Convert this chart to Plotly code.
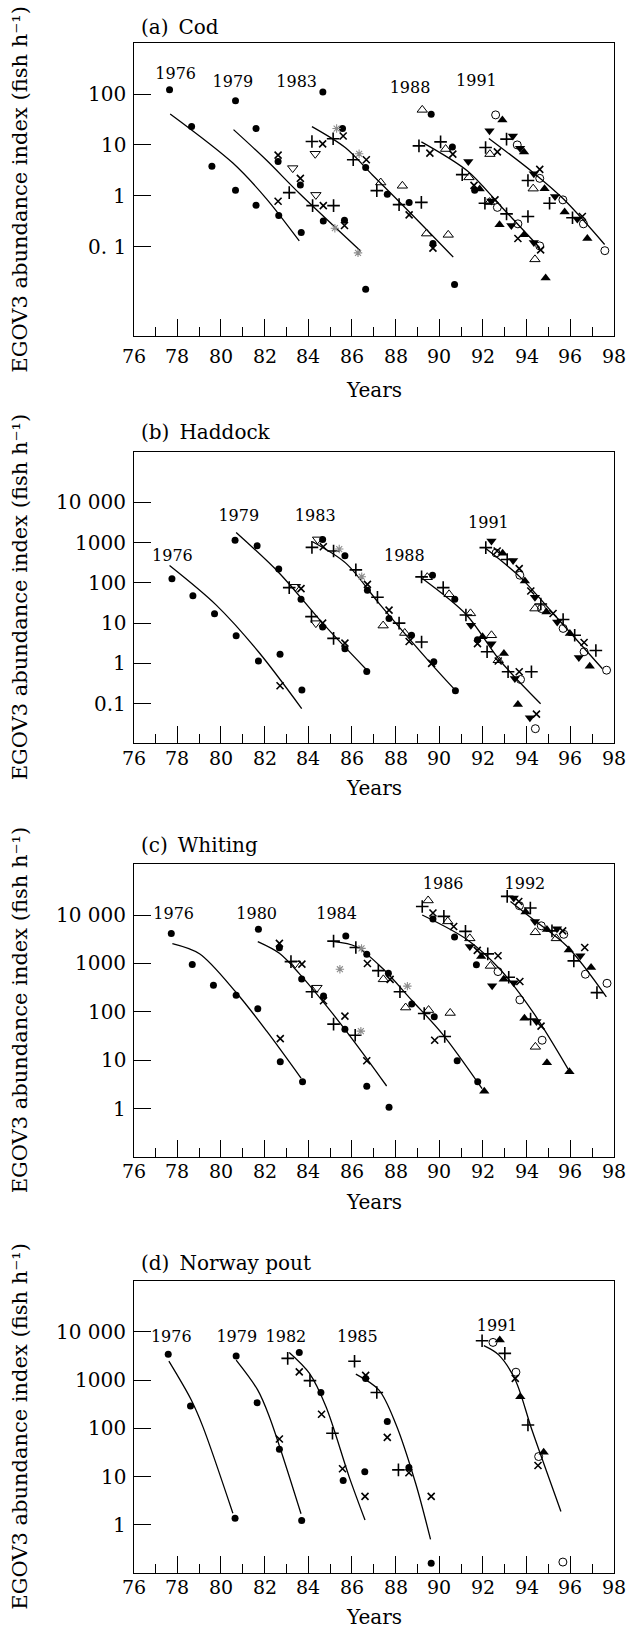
import math
import plotly.graph_objects as go

W, H = 630, 1641
FONT = "DejaVu Serif"

# ---------------- (a) Cod ----------------
COD_DOT = [(77.65, 122), (78.66, 23), (79.59, 3.8), (80.67, 1.29), (81.61, 0.65), (82.65, 0.41), (83.68, 0.19),
           (80.67, 74), (81.61, 21), (82.62, 4.7), (83.64, 1.63), (84.69, 0.32), (85.66, 0.33),
           (84.67, 110), (85.57, 21), (86.63, 3.6), (87.62, 1.07), (88.62, 0.74), (89.71, 0.115), (86.63, 0.0145), (90.7, 0.018),
           (89.63, 40), (90.6, 9.1), (91.62, 1.29)]
COD_X = [(82.62, 0.78), (82.62, 6.3), (83.64, 2.2), (84.69, 0.64), (85.66, 0.26), (85.6, 15), (84.66, 10.5), (86.66, 5.1),
         (88.62, 0.42), (89.71, 0.093), (89.57, 6.9), (90.62, 6.6), (91.59, 1.6), (92.55, 0.83), (93.6, 0.144),
         (94.64, 0.086), (92.66, 7.3), (94.6, 3.3), (96.55, 0.39)]
COD_PLUS = [(83.13, 1.15), (84.2, 0.64), (85.16, 0.64), (84.17, 11.7), (85.14, 13.2), (86.06, 5.1), (87.14, 1.26),
            (88.16, 0.67), (89.18, 0.74), (89.07, 9.6), (90.06, 11.5), (91.05, 2.6), (92.09, 0.71), (93.08, 0.44),
            (94.06, 0.39), (92.12, 8.9), (93.08, 13), (94.06, 2.0), (95.05, 0.71), (96.1, 0.37)]
COD_TRI_DOWN_OPEN = [(83.29, 3.5), (84.35, 1.04), (84.32, 6.7)]
COD_TRI_UP_OPEN = [(87.32, 1.82), (88.31, 1.57), (89.42, 0.18), (90.41, 0.17), (89.22, 49), (90.29, 8.3), (91.36, 2.3),
                   (92.3, 0.75), (94.38, 0.056), (92.32, 6.6), (94.3, 1.38)]
COD_STAR = [(85.22, 0.23), (86.28, 0.075), (85.3, 21), (86.33, 6.7)]
COD_TRI_DOWN = [(91.33, 4.7), (92.38, 0.79), (93.3, 0.26), (94.33, 0.12), (92.3, 19), (93.37, 15), (93.7, 8.6),
                (94.33, 2.7), (95.3, 0.97), (96.32, 0.35)]
COD_TRI_UP = [(91.85, 1.35), (92.76, 0.27), (93.88, 0.17), (94.87, 0.024), (92.89, 31), (93.88, 7.3), (94.82, 1.38),
              (95.74, 0.48), (96.78, 0.144)]
COD_OPEN_CIRCLE = [(92.66, 0.59), (93.6, 0.28), (94.6, 0.103), (92.58, 39), (93.57, 10), (94.6, 2.2), (95.66, 0.83),
                   (96.6, 0.28), (97.58, 0.083)]
COD_FITS = {
    "1976": [(77.68, 40.7), (80.55, 4.4), (82.07, 0.89), (83.59, 0.129)],
    "1979": [(80.58, 20), (82.07, 5.1), (83.59, 1.12), (86.41, 0.081)],
    "1983": [(84.17, 22.9), (85.72, 8.7), (86.94, 2.57), (88.61, 0.49), (90.64, 0.062)],
    "1988": [(89.18, 11.5), (91.28, 3.1), (92.81, 0.63), (94.6, 0.095)],
    "1991": [(92.27, 13.4), (94.28, 2.9), (95.7, 0.85), (97.57, 0.11)],
}
COD_LABELS = [("1976", 77.93, 240), ("1979", 80.55, 166), ("1983", 83.47, 166), ("1988", 88.66, 128), ("1991", 91.7, 170)]

# ---------------- (b) Haddock ----------------
HAD_DOT = [(77.76, 126), (78.72, 48), (79.71, 17), (80.7, 4.9), (81.72, 1.15), (82.71, 1.7), (83.71, 0.22),
           (80.65, 1150), (81.66, 830), (82.65, 220), (83.67, 39), (84.66, 8), (85.68, 2.3), (86.68, 0.63),
           (84.66, 1200), (85.68, 470), (86.71, 66), (87.7, 13), (88.73, 5.0), (89.75, 1.1), (90.74, 0.21),
           (89.69, 155), (90.71, 39), (91.75, 3.9)]
HAD_X = [(82.71, 0.28), (83.67, 72), (84.66, 10), (85.68, 3.2), (84.69, 790), (86.71, 92), (87.7, 21), (88.62, 3.5),
         (89.65, 1.0), (91.75, 3.1), (92.7, 1.15), (93.66, 0.62), (94.45, 0.055), (92.65, 620), (93.66, 225),
         (94.19, 63), (95.21, 17.4), (96.63, 3.3)]
HAD_PLUS = [(83.13, 76), (84.15, 14.5), (85.16, 4.2), (84.17, 760), (85.16, 620), (86.18, 210), (87.17, 44), (88.16, 10),
            (89.19, 3.4), (89.19, 141), (90.18, 76), (91.22, 16), (92.19, 1.95), (93.15, 0.62), (94.22, 0.62),
            (92.13, 750), (93.11, 380), (94.65, 30), (95.67, 12.3), (96.2, 5.0), (97.17, 2.1)]
HAD_TRI_DOWN_OPEN = [(83.41, 80), (84.35, 10), (84.43, 1200)]
HAD_TRI_UP_OPEN = [(87.43, 8.7), (88.42, 5.7), (89.45, 138), (90.45, 52), (91.43, 17.5), (92.39, 5.0), (92.7, 1.2),
                   (94.38, 23)]
HAD_STAR = [(85.42, 690), (86.45, 142)]
HAD_TRI_DOWN = [(91.45, 8.9), (92.39, 3.1), (93.46, 0.42), (94.15, 0.045), (92.39, 1100), (93.38, 360), (94.38, 44),
                (95.4, 10.7), (96.39, 1.4)]
HAD_TRI_UP = [(91.98, 4.6), (92.96, 1.76), (93.6, 0.095), (92.9, 540), (93.92, 112), (94.91, 19), (95.98, 5.5),
              (96.89, 0.85)]
HAD_OPEN_CIRCLE = [(93.72, 0.4), (94.4, 0.024), (92.6, 550), (93.69, 155), (94.68, 23), (95.67, 7.4), (96.63, 1.95),
                   (97.66, 0.68)]
HAD_FITS = {
    "1976": [(77.65, 269), (79.79, 28), (81.72, 1.95), (83.7, 0.076)],
    "1979": [(80.7, 1780), (82.68, 174), (84.66, 10), (86.68, 0.69)],
    "1983": [(84.2, 1050), (85.72, 309), (87.24, 31), (89.6, 1.02), (90.72, 0.22)],
    "1988": [(89.24, 126), (91.25, 16), (92.77, 1.2), (94.64, 0.1)],
    "1991": [(92.13, 710), (93.69, 141), (95.37, 14), (97.47, 0.74)],
}
HAD_LABELS = [("1976", 77.78, 447), ("1979", 80.82, 4270), ("1983", 84.32, 4270), ("1988", 88.4, 440), ("1991", 92.25, 2820)]

# ---------------- (c) Whiting ----------------
WHI_DOT = [(77.73, 4150), (78.69, 950), (79.66, 353), (80.7, 220), (81.69, 116), (82.72, 9.3), (83.74, 3.6),
           (81.72, 5100), (82.68, 2100), (83.7, 480), (84.7, 214), (85.68, 44), (86.68, 2.9), (87.7, 1.07),
           (85.72, 3700), (86.68, 1550), (87.67, 630), (88.74, 145), (89.77, 79), (90.82, 9.8), (91.76, 3.6),
           (89.71, 8300), (90.7, 3500), (91.7, 940)]
WHI_X = [(82.72, 28), (82.68, 2600), (83.71, 970), (84.7, 170), (85.68, 82), (86.68, 9.8), (86.71, 1000), (87.75, 470),
         (89.79, 26), (89.71, 11000), (90.66, 5800), (91.74, 1860), (92.69, 1440), (93.69, 425), (94.66, 51),
         (93.64, 19000), (95.65, 4700), (96.66, 2140)]
WHI_PLUS = [(83.21, 1090), (84.17, 260), (85.16, 56), (86.15, 33), (85.16, 2900), (86.18, 2130), (87.21, 710),
            (88.2, 260), (89.31, 93), (90.25, 31), (89.22, 15000), (90.21, 9400), (91.2, 4600), (92.22, 1580),
            (93.18, 520), (94.18, 71), (93.11, 24300), (94.17, 14000), (95.16, 4700), (96.16, 1130), (97.22, 250)]
WHI_TRI_DOWN_OPEN = [(83.41, 1000), (84.4, 316)]
WHI_TRI_UP_OPEN = [(87.44, 470), (88.46, 123), (89.51, 109), (90.5, 95), (89.49, 20000), (90.39, 7400), (91.4, 3300),
                   (92.34, 890), (94.4, 19), (94.4, 4400), (95.36, 3300)]
WHI_STAR = [(85.45, 760), (86.41, 40), (86.44, 2050), (88.54, 340)]
WHI_TRI_DOWN = [(91.4, 2250), (92.42, 345), (93.41, 400), (94.45, 63), (93.41, 22600), (94.38, 7400), (95.39, 5200),
                (96.46, 1440)]
WHI_TRI_UP = [(92.06, 2.3), (91.92, 1390), (92.95, 470), (93.9, 74), (94.93, 8.9), (95.96, 5.8), (93.95, 11500),
              (94.93, 5000), (95.93, 1900), (96.95, 830)]
WHI_OPEN_CIRCLE = [(92.69, 680), (93.69, 177), (94.71, 26), (93.67, 15600), (94.67, 6000), (95.7, 4000), (96.69, 600),
                   (97.68, 390)]
WHI_FITS = {
    "1976": [(77.78, 2570), (79.02, 1585), (80.7, 251), (82.1, 40), (83.67, 4.3)],
    "1980": [(81.69, 2820), (82.68, 1620), (83.59, 617), (85.11, 93), (86.63, 11.7), (87.59, 2.95)],
    "1984": [(85.19, 2820), (86.18, 2240), (87.4, 794), (88.74, 174), (90.12, 36), (91.96, 2.6)],
    "1986": [(89.22, 10000), (91.28, 3090), (92.8, 741), (94.33, 93), (95.9, 6.6)],
    "1992": [(93.26, 19000), (94.33, 7940), (95.86, 2240), (97.65, 204)],
}
WHI_LABELS = [("1976", 77.84, 10200), ("1980", 81.64, 10200), ("1984", 85.3, 10200), ("1986", 90.18, 42700), ("1992", 93.92, 42700)]

# ---------------- (d) Norway pout ----------------
NOR_DOT = [(77.59, 3400), (78.61, 290), (80.65, 1.38), (80.7, 3150), (81.66, 340), (82.68, 37), (83.7, 1.23),
           (83.59, 3700), (84.58, 550), (85.6, 8.3), (86.59, 12.6), (86.63, 1080), (87.62, 138), (88.61, 15.4),
           (89.63, 0.16)]
NOR_X = [(82.68, 60), (83.59, 1470), (84.61, 195), (85.57, 14.5), (86.6, 3.9), (86.63, 1250), (87.62, 65), (88.61, 12),
         (89.63, 3.9), (93.48, 1080), (94.52, 17)]
NOR_PLUS = [(83.06, 2800), (84.08, 970), (85.11, 79), (86.12, 2450), (87.14, 550), (88.13, 13.8), (91.96, 6500),
            (93.0, 3560), (94.06, 117)]
NOR_TRI_UP = [(92.77, 6700), (93.71, 450), (94.78, 32)]
NOR_OPEN_CIRCLE = [(92.46, 6000), (93.51, 1450), (94.55, 26), (95.66, 0.17)]
NOR_FITS = {
    "1976": [(77.62, 2450), (78.64, 389), (79.18, 107), (80.55, 1.74)],
    "1979": [(80.7, 2570), (81.69, 617), (82.22, 174), (83.67, 1.7)],
    "1982": [(83.13, 3715), (84.05, 1380), (84.81, 282), (85.87, 10), (86.6, 1.26)],
    "1985": [(86.18, 1320), (87.24, 617), (88.0, 126), (88.92, 7.2), (89.6, 0.5)],
    "1991": [(92.04, 5130), (92.72, 3310), (93.48, 1000), (94.24, 93), (95.57, 1.9)],
}
NOR_LABELS = [("1976", 77.73, 7240), ("1979", 80.73, 7240), ("1982", 82.98, 7240), ("1985", 86.25, 7240), ("1991", 92.65, 12600)]

# ---------------- axis tick labels ----------------
YEAR_TICKS = [76, 78, 80, 82, 84, 86, 88, 90, 92, 94, 96, 98]
YEAR_TEXT = ["76", "78", "80", "82", "84", "86", "88", "90", "92", "94", "96", "98"]
COD_YTICKS = [100, 10, 1, 0.1]
COD_YTEXT = ["100", "10", "1", "0. 1"]
HAD_YTICKS = [10000, 1000, 100, 10, 1, 0.1]
HAD_YTEXT = ["10 000", "1000", "100", "10", "1", "0.1"]
WHI_YTICKS = [10000, 1000, 100, 10, 1]
WHI_YTEXT = ["10 000", "1000", "100", "10", "1"]
NOR_YTICKS = [10000, 1000, 100, 10, 1]
NOR_YTEXT = ["10 000", "1000", "100", "10", "1"]

PANEL_TITLES = ["(a)\u2002Cod", "(b)\u2002Haddock", "(c)\u2002Whiting", "(d)\u2002Norway pout"]
Y_TITLE = "EGOV3 abundance index (fish h\u207b\u00b9)"
X_TITLE = "Years"

# ---------------- styles / layout (pixels) ----------------
STYLE = {
    "dot": dict(symbol="circle", size=7, color="black", line=dict(width=0)),
    "x": dict(symbol="x-thin", size=7, color="black", line=dict(width=1.6, color="black")),
    "plus": dict(symbol="cross-thin", size=9, color="black", line=dict(width=1.6, color="black")),
    "tdo": dict(symbol="triangle-down-open", size=9, color="black", line=dict(width=1, color="black")),
    "tuo": dict(symbol="triangle-up-open", size=9, color="black", line=dict(width=1, color="black")),
    "star": dict(symbol="asterisk", size=7, color="#8c8c8c", line=dict(width=1.1, color="#8c8c8c")),
    "tdf": dict(symbol="triangle-down", size=9, color="black", line=dict(width=0)),
    "tuf": dict(symbol="triangle-up", size=9, color="black", line=dict(width=0)),
    "co": dict(symbol="circle-open", size=8, color="black", line=dict(width=1, color="black")),
}

panels = [
    dict(top=43.3, bottom=336.0, yrange=[-2.76, 3.0], ytv=COD_YTICKS, ytt=COD_YTEXT, fits=COD_FITS, labels=COD_LABELS,
         title_y=27, xtitle_y=390, xlab_dy=20,
         marks={"dot": COD_DOT, "x": COD_X, "plus": COD_PLUS, "tdo": COD_TRI_DOWN_OPEN, "tuo": COD_TRI_UP_OPEN,
                "star": COD_STAR, "tdf": COD_TRI_DOWN, "tuf": COD_TRI_UP, "co": COD_OPEN_CIRCLE}),
    dict(top=451.7, bottom=743.0, yrange=[-1.975, 5.256], ytv=HAD_YTICKS, ytt=HAD_YTEXT, fits=HAD_FITS, labels=HAD_LABELS,
         title_y=432, xtitle_y=788, xlab_dy=15,
         marks={"dot": HAD_DOT, "x": HAD_X, "plus": HAD_PLUS, "tdo": HAD_TRI_DOWN_OPEN, "tuo": HAD_TRI_UP_OPEN,
                "star": HAD_STAR, "tdf": HAD_TRI_DOWN, "tuf": HAD_TRI_UP, "co": HAD_OPEN_CIRCLE}),
    dict(top=864.0, bottom=1156.7, yrange=[-0.99, 5.054], ytv=WHI_YTICKS, ytt=WHI_YTEXT, fits=WHI_FITS, labels=WHI_LABELS,
         title_y=845, xtitle_y=1202, xlab_dy=14,
         marks={"dot": WHI_DOT, "x": WHI_X, "plus": WHI_PLUS, "tdo": WHI_TRI_DOWN_OPEN, "tuo": WHI_TRI_UP_OPEN,
                "star": WHI_STAR, "tdf": WHI_TRI_DOWN, "tuf": WHI_TRI_UP, "co": WHI_OPEN_CIRCLE}),
    dict(top=1280.7, bottom=1572.7, yrange=[-0.99, 5.056], ytv=NOR_YTICKS, ytt=NOR_YTEXT, fits=NOR_FITS, labels=NOR_LABELS,
         title_y=1263, xtitle_y=1617, xlab_dy=14,
         marks={"dot": NOR_DOT, "x": NOR_X, "plus": NOR_PLUS, "tuf": NOR_TRI_UP, "co": NOR_OPEN_CIRCLE}),
]

X_LEFT, X_RIGHT = 133.5, 614.0
YLAB_RIGHT = 128.0

fig = go.Figure()
annotations = []
layout = dict(width=W, height=H, margin=dict(l=0, r=0, t=0, b=0), showlegend=False,
              plot_bgcolor="white", paper_bgcolor="white", font=dict(family=FONT, color="black", size=20))


def py(v):
    return 1 - v / H


for i, p in enumerate(panels, start=1):
    xa, ya = f"x{i}", f"y{i}"
    for name, pts in p["fits"].items():
        fig.add_trace(go.Scatter(x=[a for a, _ in pts], y=[b for _, b in pts], mode="lines", xaxis=xa, yaxis=ya,
                                 line=dict(color="black", width=1.3, shape="spline", smoothing=0.9),
                                 hoverinfo="skip"))
    for key, pts in p["marks"].items():
        fig.add_trace(go.Scatter(x=[a for a, _ in pts], y=[b for _, b in pts], mode="markers", xaxis=xa, yaxis=ya,
                                 marker=STYLE[key], cliponaxis=False))
    fig.add_trace(go.Scatter(x=[l[1] for l in p["labels"]], y=[l[2] for l in p["labels"]],
                             text=[l[0] for l in p["labels"]], mode="text", xaxis=xa, yaxis=ya,
                             textfont=dict(family=FONT, size=16, color="black"), textposition="middle center"))
    sfx = "" if i == 1 else str(i)
    layout["xaxis" + sfx] = dict(domain=[X_LEFT / W, X_RIGHT / W], anchor=ya, range=[76, 98],
                                 tickmode="array", tickvals=YEAR_TICKS, showticklabels=False,
                                 ticks="inside", ticklen=17, tickwidth=1, tickcolor="black",
                                 minor=dict(ticks="inside", ticklen=9, dtick=1, tick0=76, tickcolor="black", tickwidth=1),
                                 showline=True, mirror=True, linecolor="black", linewidth=1.2,
                                 showgrid=False, zeroline=False)
    layout["yaxis" + sfx] = dict(domain=[py(p["bottom"]), py(p["top"])], anchor=xa, type="log", range=p["yrange"],
                                 tickmode="array", tickvals=p["ytv"], showticklabels=False, ticks="inside", ticklen=17,
                                 tickwidth=1, tickcolor="black", showline=True, mirror=True, linecolor="black",
                                 linewidth=1.2, showgrid=False, zeroline=False)
    # y tick labels
    for v, t in zip(p["ytv"], p["ytt"]):
        annotations.append(dict(text=t, xref="paper", yref=ya, x=YLAB_RIGHT / W, y=math.log10(v),
                                xanchor="right", yanchor="middle", showarrow=False,
                                font=dict(family=FONT, size=20)))
    # x tick labels
    for v, t in zip(YEAR_TICKS, YEAR_TEXT):
        annotations.append(dict(text=t, xref=xa, yref="paper", x=v, y=py(p["bottom"] + p["xlab_dy"]),
                                xanchor="center", yanchor="middle", showarrow=False,
                                font=dict(family=FONT, size=19)))
    annotations.append(dict(text=PANEL_TITLES[i - 1], xref="paper", yref="paper", x=139 / W, y=py(p["title_y"]),
                            xanchor="left", yanchor="middle", showarrow=False, font=dict(family=FONT, size=20)))
    annotations.append(dict(text=Y_TITLE, xref="paper", yref="paper", x=20 / W, y=py((p["top"] + p["bottom"]) / 2),
                            xanchor="center", yanchor="middle", textangle=-90, showarrow=False,
                            font=dict(family=FONT, size=21)))
    annotations.append(dict(text=X_TITLE, xref="paper", yref="paper", x=(X_LEFT + X_RIGHT) / 2 / W, y=py(p["xtitle_y"]),
                            xanchor="center", yanchor="middle", showarrow=False, font=dict(family=FONT, size=20)))

layout["annotations"] = annotations
fig.update_layout(**layout)
fig.write_html("out.html")
